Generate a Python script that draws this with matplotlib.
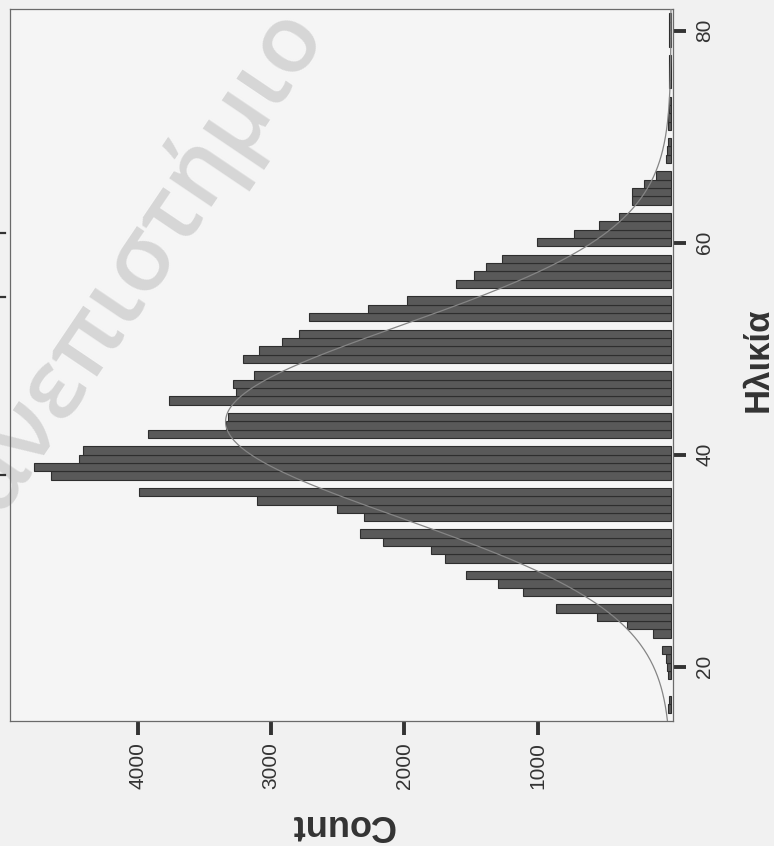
import numpy as np
import matplotlib
matplotlib.use("Agg")
import matplotlib.pyplot as plt
from matplotlib.lines import Line2D

# ---- data (histogram of age) ----
bin_start = 14.87          # lower edge of the first bin (years)
bin_width = 0.7855         # width of one bin (years)
counts = [
    0, 22, 12, 0, 0, 25, 28, 40, 65, 0,          # k 0-9
    135, 330, 555, 863, 0,                       # k 10-14
    1110, 1298, 1540, 0,                         # k 15-18
    1699, 1800, 2163, 2330, 0,                   # k 19-23
    2303, 2505, 3104, 3994, 0,                   # k 24-28
    4652, 4777, 4440, 4410, 0,                   # k 29-33
    3928, 3340, 3327, 0,                         # k 34-37
    3770, 3265, 3290, 3127, 0,                   # k 38-42
    3215, 3090, 2920, 2795, 0,                   # k 43-47
    2715, 2270, 1978, 0,                         # k 48-51
    1615, 1478, 1390, 1265, 0,                   # k 52-56
    1008, 725, 537, 393, 0,                      # k 57-61
    292, 292, 205, 112, 0,                       # k 62-66
    40, 28, 22, 0,                               # k 67-70
    20, 20, 18, 18, 0,                           # k 71-75
    18, 18, 18, 18, 0,                           # k 76-80
    18, 18, 16, 18,                              # k 81-84
]
age_ticks = [20, 40, 60, 80]
count_ticks = [1000, 2000, 3000, 4000]
x_label = "Ηλικία"
y_label = "Count"
watermark = "Πανεπιστήμιο"

# ---- figure ----
W, H = 774, 846
fig = plt.figure(figsize=(W / 100, H / 100), dpi=100, facecolor="#f1f1f1")
ax = fig.add_axes([10 / W, 1 - 721 / H, (673 - 10) / W, (721 - 9) / H])
ax.set_facecolor("#f5f5f5")

counts_arr = np.array(counts, dtype=float)
edges = bin_start + bin_width * np.arange(len(counts) + 1)
lows = edges[:-1]
mask = counts_arr > 0

# watermark (scan stamp)
ax.text(302 / W, 1 - 14 / H, watermark, transform=fig.transFigure,
        rotation=56, rotation_mode="anchor", ha="right", va="center",
        fontsize=68, fontweight="semibold", color="#d6d6d6",
        family="Open Sans", zorder=0.5, clip_on=False)

ax.barh(lows[mask], counts_arr[mask], height=bin_width, align="edge",
        color="#595959", edgecolor="#2e2e2e", linewidth=0.8, zorder=2)

# normal curve fitted to the data
centers = lows + bin_width / 2
n_total = counts_arr.sum()
mean = (centers * counts_arr).sum() / n_total
sd = np.sqrt((counts_arr * (centers - mean) ** 2).sum() / n_total)
grid = np.linspace(edges[0], 82.0, 400)
curve = n_total * bin_width / (sd * np.sqrt(2 * np.pi)) * np.exp(-0.5 * ((grid - mean) / sd) ** 2)
ax.plot(curve, grid, color="#858585", linewidth=0.9, zorder=3)

ax.set_ylim(edges[0], 82.04)
ax.set_xlim(4960, -15)

ax.yaxis.tick_right()
ax.set_yticks(age_ticks)
ax.set_yticklabels([str(t) for t in age_ticks])
ax.set_xticks(count_ticks)
ax.set_xticklabels([str(t) for t in count_ticks])

ax.tick_params(axis="y", right=True, left=False, length=9, width=2.8,
               direction="out", pad=7, labelsize=15, labelrotation=90,
               color="#333333", labelcolor="#333333")
ax.tick_params(axis="x", bottom=True, length=10, width=2.8, direction="out",
               pad=5, labelsize=15, labelrotation=90, color="#333333",
               labelcolor="#333333")
for lab in ax.get_yticklabels():
    lab.set_family("Liberation Sans")
    lab.set_va("center")
for lab in ax.get_xticklabels():
    lab.set_family("Liberation Sans")

for sp in ax.spines.values():
    sp.set_color("#6a6a6a")
    sp.set_linewidth(0.9)

fig.text(342 / W, 1 - 824 / H, y_label, rotation=180, ha="center", va="center",
         fontsize=26, fontweight="bold", family="Liberation Sans", color="#333333")
fig.text(758 / W, 1 - 360 / H, x_label, rotation=90, ha="center", va="center",
         fontsize=25, fontweight="bold", family="Liberation Sans", color="#333333")

# small marks left at the page margin by the scan
for yy in (233, 297, 475):
    fig.add_artist(Line2D([0 / W, 5 / W], [1 - yy / H, 1 - yy / H],
                          transform=fig.transFigure, color="#333333",
                          linewidth=1.6))

fig.savefig("out.png", dpi=100, facecolor=fig.get_facecolor())
